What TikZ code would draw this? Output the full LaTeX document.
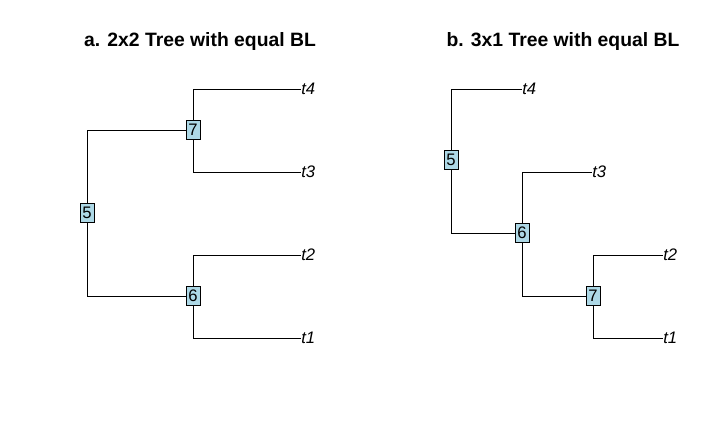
\documentclass[tikz,border=0pt]{standalone}
\usepackage{fontspec}
\setmainfont{Liberation Sans}
\begin{document}
\begin{tikzpicture}[x=0.75pt,y=-0.75pt,
  inode/.style={draw,fill={rgb,255:red,173;green,216;blue,230},minimum width=10.5pt,minimum height=14pt,inner sep=0pt,font=\fontsize{12.5pt}{13pt}\selectfont,line width=0.6pt},
  tiplab/.style={anchor=west,inner sep=0pt,font=\fontsize{12.5pt}{13pt}\selectfont\itshape},
  ttl/.style={anchor=base,inner sep=0pt,font=\fontsize{14.5pt}{16pt}\selectfont\bfseries},
  edge/.style={draw,line width=0.6pt}]
\useasboundingbox (0,0) rectangle (727,445);
% titles
\node[ttl] (ta) at (200,47) {a. 2x2 Tree with equal BL};
\node[ttl] (tb) at (563,47) {b. 3x1 Tree with equal BL};
% left tree
\node[inode] (a5) at (87,213) {5};
\node[inode] (a7) at (193,130) {7};
\node[inode] (a6) at (193,296) {6};
\node[tiplab] (at4) at (301,89) {t4};
\node[tiplab] (at3) at (301,172) {t3};
\node[tiplab] (at2) at (301,255) {t2};
\node[tiplab] (at1) at (301,338) {t1};
\path[edge] (a5) |- (a7);
\path[edge] (a5) |- (a6);
\path[edge] (a7) |- (at4);
\path[edge] (a7) |- (at3);
\path[edge] (a6) |- (at2);
\path[edge] (a6) |- (at1);
% right tree
\node[inode] (b5) at (451,160) {5};
\node[inode] (b6) at (522,233) {6};
\node[inode] (b7) at (593,296) {7};
\node[tiplab] (bt4) at (522,89) {t4};
\node[tiplab] (bt3) at (592,172) {t3};
\node[tiplab] (bt2) at (663,255) {t2};
\node[tiplab] (bt1) at (663,338) {t1};
\path[edge] (b5) |- (bt4);
\path[edge] (b5) |- (b6);
\path[edge] (b6) |- (bt3);
\path[edge] (b6) |- (b7);
\path[edge] (b7) |- (bt2);
\path[edge] (b7) |- (bt1);
\end{tikzpicture}
\end{document}
